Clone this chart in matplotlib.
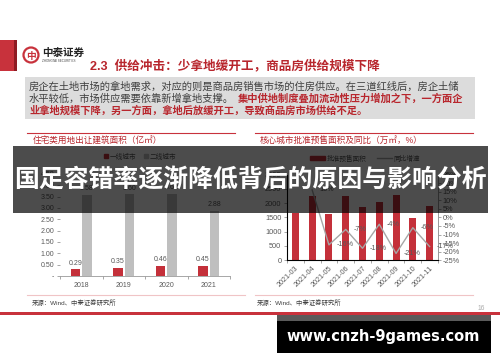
import numpy as np
import matplotlib
matplotlib.use('Agg')
import matplotlib.pyplot as plt
from matplotlib.patches import Rectangle, Circle, Patch
from matplotlib.lines import Line2D
from matplotlib.ticker import FuncFormatter, FixedLocator

plt.rcParams['font.family'] = ['Liberation Sans', 'Noto Sans CJK SC', 'DejaVu Sans']
plt.rcParams['axes.unicode_minus'] = False

# ── Data ──────────────────────────────────────────────────────
years = ['2018', '2019', '2020', '2021']
tier1 = [0.29, 0.35, 0.46, 0.45]          # 一线城市
tier2 = [3.58, 3.60, 3.62, 2.88]          # 二线城市

months = ['2021-03', '2021-04', '2021-05', '2021-06', '2021-07',
          '2021-08', '2021-09', '2021-10', '2021-11']
presale = [1650, 2260, 1620, 2240, 1850, 2030, 2300, 1470, 1910]
yoy = [np.nan, 0.16, -0.16, -0.07, -0.18, -0.04, -0.21, -0.06, -0.17]

RED = '#c4303a'
TXT = '#595959'
W, H = 500, 362

fig = plt.figure(figsize=(5, 3.62), dpi=100)
fig.patch.set_facecolor('white')


def box(x0, y0, x1, y1, z=1):
    return fig.add_axes([x0 / W, 1 - y1 / H, (x1 - x0) / W, (y1 - y0) / H], zorder=z)


# ── Page layer (pixel coordinates) ────────────────────────────
page = box(0, 0, W, H, z=0)
page.set_xlim(0, W)
page.set_ylim(H, 0)
page.axis('off')

page.add_patch(Rectangle((0, 40), 14, 31, color='#c8323c', lw=0))
page.add_patch(Rectangle((14, 40), 3, 31, color='#8e1c24', lw=0))
page.add_patch(Circle((31, 55), 7.5, fc='white', ec='#c8323c', lw=1.6))
page.text(31, 55.5, '中', color='#c8323c', fontsize=7, ha='center', va='center',
          fontweight='bold')
page.text(42, 52.5, '中泰证券', fontsize=7.6, fontweight='bold', color='#222222',
          va='center', ha='left')
page.text(42, 60.5, 'ZHONGTAI SECURITIES', fontsize=2.2, color='#444444',
          va='center', ha='left')
page.text(90, 66, '2.3  供给冲击：少拿地缓开工，商品房供给规模下降', fontsize=9.1,
          fontweight='bold', color='#b8262d', va='center', ha='left')

page.add_patch(Rectangle((25, 77), 450, 41.5, color='#dcdcdc', lw=0))
page.text(29, 87, '房企在土地市场的拿地需求，对应的则是商品房销售市场的住房供应。在三道红线后，房企土储',
          fontsize=7.4, color='#404040', va='center', ha='left')
page.text(29, 99, '水平较低，市场供应需要依靠新增拿地支撑。',
          fontsize=7.4, color='#404040', va='center', ha='left')
page.text(238, 99, '集中供地制度叠加流动性压力增加之下，一方面企',
          fontsize=7.4, color='#b8262d', fontweight='bold', va='center', ha='left')
page.text(29, 111, '业拿地规模下降，另一方面，拿地后放缓开工，导致商品房市场供给不足。',
          fontsize=7.4, color='#b8262d', fontweight='bold', va='center', ha='left')

# chart frames
for x0, x1 in [(27, 235), (255, 473)]:
    page.plot([x0, x1], [132.5, 132.5], color='#c8323c', lw=0.8)
page.plot([27, 245], [295, 295], color='#f0c4c6', lw=0.8)
page.plot([255, 473], [295, 295], color='#f0c4c6', lw=0.8)
page.text(33, 140, '住宅类用地出让建筑面积（亿㎡）', fontsize=6.2, color='#b8262d',
          va='center', ha='left')
page.text(260, 140, '核心城市批准预售面积及同比（万㎡，%）', fontsize=6.2, color='#b8262d',
          va='center', ha='left')
page.text(32, 303, '来源：Wind、中泰证券研究所', fontsize=4.6, color='#404040',
          va='center', ha='left')
page.text(257, 303, '来源：Wind、中泰证券研究所', fontsize=4.6, color='#404040',
          va='center', ha='left')
page.text(481, 308, '16', fontsize=4.8, color='#aaaaaa', va='center', ha='center')
page.add_patch(Rectangle((0, 311.5), W, 3, color='#c8323c', lw=0))

# ── Left chart ────────────────────────────────────────────────
ax = box(60, 174, 230, 276)
x = np.arange(len(years))
ax.bar(x - 0.135, tier1, width=0.22, color=RED, zorder=3)
ax.bar(x + 0.135, tier2, width=0.22, color='#bfbfbf', zorder=3)
for i, v in enumerate(tier1):
    ax.text(i - 0.135, v + 0.12, f'{v:.2f}', ha='center', va='bottom', fontsize=5, color=TXT)
for i, v in enumerate(tier2):
    ax.text(i + 0.135, v + 0.12, f'{v:.2f}', ha='center', va='bottom', fontsize=5, color=TXT)
ax.set_xlim(-0.5, len(years) - 0.5)
ax.set_ylim(0, 4.5)
ax.set_yticks(np.arange(0, 4.51, 0.5))
ax.yaxis.set_major_formatter(FuncFormatter(lambda v, p: '-' if v == 0 else f'{v:.2f}'))
ax.xaxis.set_major_locator(FixedLocator(np.arange(-0.5, len(years), 1.0)))
ax.xaxis.set_major_formatter(FuncFormatter(lambda v, p: ''))
ax.set_xticks(x, minor=True)
ax.set_xticklabels(years, minor=True)
ax.tick_params(axis='x', which='minor', length=0, labelsize=5, labelcolor=TXT, pad=4)
ax.tick_params(axis='x', which='major', length=2.5, color='#999999', width=0.6)
ax.tick_params(axis='y', length=2, color='#999999', width=0.6, labelsize=5,
               labelcolor=TXT, pad=2)
for s in ['top', 'right', 'left']:
    ax.spines[s].set_visible(False)
ax.spines['bottom'].set_color('#999999')
ax.spines['bottom'].set_linewidth(0.6)
ax.legend(handles=[Patch(color=RED, label='一线城市'), Patch(color='#bfbfbf', label='二线城市')],
          loc='center', bbox_to_anchor=(140 / W, 1 - 157 / H), bbox_transform=fig.transFigure,
          ncol=2, frameon=False, fontsize=4.8, handlelength=0.6, handleheight=0.6,
          handletextpad=0.3, columnspacing=1.2, labelcolor=TXT)

# ── Right chart ───────────────────────────────────────────────
bx = box(287, 174.5, 438, 260.3)
m = np.arange(len(months))
bx.bar(m, presale, width=0.42, color=RED, zorder=3)
bx.set_xlim(-0.5, len(months) - 0.5)
bx.set_ylim(0, 3000)
bx.set_yticks(np.arange(0, 3001, 500))
bx.xaxis.set_major_locator(FixedLocator(np.arange(-0.5, len(months), 1.0)))
bx.xaxis.set_major_formatter(FuncFormatter(lambda v, p: ''))
bx.set_xticks(m, minor=True)
bx.set_xticklabels(months, minor=True, rotation=45, ha='right', rotation_mode='anchor')
bx.tick_params(axis='x', which='minor', length=0, labelsize=5.2, labelcolor=TXT, pad=3)
bx.tick_params(axis='x', which='major', length=2.5, color='#999999', width=0.6)
bx.tick_params(axis='y', length=2, color='#999999', width=0.6, labelsize=5.3,
               labelcolor=TXT, pad=2)
bx.spines['top'].set_visible(False)
for s in ['left', 'bottom', 'right']:
    bx.spines[s].set_color('#999999')
    bx.spines[s].set_linewidth(0.6)

b2 = bx.twinx()
b2.plot(m, yoy, color='#a6a6a6', lw=1.0, zorder=4)
for i, v in enumerate(yoy):
    if not np.isnan(v):
        b2.text(i + 0.45, v, f'{v:.0%}', ha='left', va='center', fontsize=5.2, color=TXT)
b2.set_ylim(-0.25, 0.25)
b2.set_yticks(np.arange(-0.25, 0.251, 0.05))
b2.yaxis.set_major_formatter(FuncFormatter(lambda v, p: f'{round(v * 100):d}%'))
b2.tick_params(axis='y', length=2, color='#999999', width=0.6, labelsize=5.3,
               labelcolor=TXT, pad=1.5)
b2.spines['top'].set_visible(False)
b2.spines['right'].set_color('#999999')
b2.spines['right'].set_linewidth(0.6)
bx.legend(handles=[Patch(color=RED, label='批准预售面积'),
                   Line2D([0], [0], color='#a6a6a6', lw=1.0, label='同比增速')],
          loc='center', bbox_to_anchor=(365 / W, 1 - 159 / H), bbox_transform=fig.transFigure,
          ncol=2, frameon=False, fontsize=4.8, handlelength=2.2, handleheight=0.5,
          handletextpad=0.3, columnspacing=1.6, labelcolor=TXT)

# ── Overlay banner + watermark ────────────────────────────────
top = box(0, 0, W, H, z=10)
top.set_xlim(0, W)
top.set_ylim(H, 0)
top.axis('off')
top.patch.set_alpha(0)
top.add_patch(Rectangle((13, 146), 475, 67, color='black', alpha=0.7, lw=0))
top.text(250, 180, '国足容错率逐渐降低背后的原因与影响分析', fontsize=17.9, fontweight='bold',
         color='white', ha='center', va='center', family=['Noto Sans CJK SC'])
top.add_patch(Rectangle((277, 315), 214, 6, color='#5a5a5a', lw=0))
top.add_patch(Rectangle((277, 321), 214, 32, color='black', lw=0))
top.text(383.5, 337, 'www.cnzh-9games.com', fontsize=10.5, fontweight='bold',
         color='white', ha='center', va='center', family=['DejaVu Sans'])

fig.savefig('out.png', dpi=100, facecolor='white')
